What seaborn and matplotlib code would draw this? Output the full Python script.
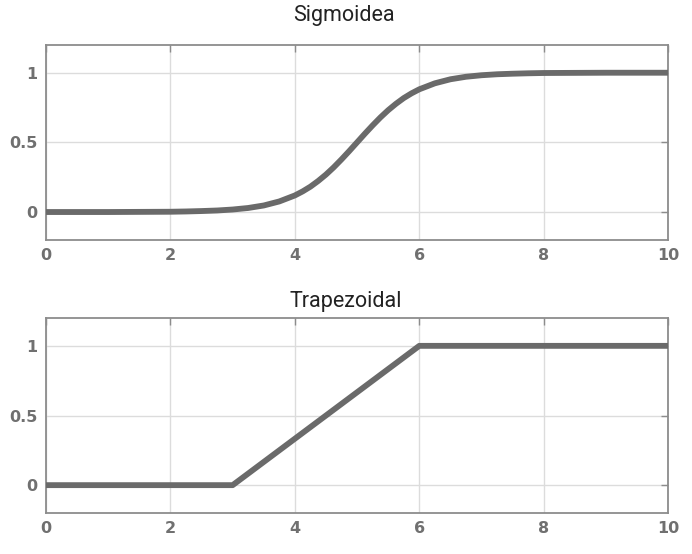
import matplotlib
matplotlib.use("Agg")
import matplotlib.pyplot as plt
import seaborn as sns
import pandas as pd

# Sigmoid membership values (sampled along the universe of discourse)
sig_x = [0, 1, 2, 2.25, 2.5, 2.75, 3, 3.25, 3.5, 3.75, 4, 4.125, 4.25, 4.375,
         4.5, 4.625, 4.75, 4.875, 5, 5.125, 5.25, 5.375, 5.5, 5.625, 5.75,
         5.875, 6, 6.25, 6.5, 6.75, 7, 7.25, 7.5, 7.75, 8, 9, 10]
sig_y = [0.000, 0.000, 0.002, 0.004, 0.007, 0.011, 0.018, 0.029, 0.047, 0.076,
         0.119, 0.148, 0.182, 0.223, 0.269, 0.321, 0.378, 0.438, 0.500, 0.562,
         0.622, 0.679, 0.731, 0.777, 0.818, 0.852, 0.881, 0.924, 0.953, 0.971,
         0.982, 0.989, 0.993, 0.996, 0.998, 1.000, 1.000]

# Trapezoidal membership breakpoints
trap_x = [0, 3, 6, 10]
trap_y = [0, 0, 1, 1]

titles = ["Sigmoidea", "Trapezoidal"]
x_ticks = [0, 2, 4, 6, 8, 10]
y_ticks = [0, 0.5, 1]
y_tick_labels = ["0", "0.5", "1"]

sns.set_theme(style="white")
plt.rcParams["font.family"] = ["DejaVu Sans"]

line_color = "#6a6a6a"
frame_color = "#8c8c8c"
label_color = "#707070"

fig = plt.figure(figsize=(6.92, 5.54), dpi=100)
ax_top = fig.add_axes([0.0665, 0.567, 0.899, 0.352])
ax_bot = fig.add_axes([0.0665, 0.074, 0.899, 0.352])

frames = [
    pd.DataFrame({"x": sig_x, "y": sig_y}),
    pd.DataFrame({"x": trap_x, "y": trap_y}),
]

for ax, df in zip([ax_top, ax_bot], frames):
    ax.grid(True, color="#dcdcdc", linewidth=1.0)
    ax.set_axisbelow(True)
    sns.lineplot(data=df, x="x", y="y", ax=ax, color=line_color,
                 linewidth=4.2, solid_joinstyle="round", solid_capstyle="butt",
                 zorder=3)
    ax.set_xlim(0, 10)
    ax.set_ylim(-0.2, 1.2)
    ax.set_xticks(x_ticks)
    ax.set_xticklabels([str(t) for t in x_ticks])
    ax.set_yticks(y_ticks)
    ax.set_yticklabels(y_tick_labels)
    ax.set_xlabel("")
    ax.set_ylabel("")
    for sp in ax.spines.values():
        sp.set_visible(True)
        sp.set_color(frame_color)
        sp.set_linewidth(1.3)
    ax.tick_params(direction="in", length=5, width=1.0, color=frame_color,
                   top=True, right=True, labelsize=11.5, labelcolor=label_color,
                   pad=6)
    for lbl in ax.get_xticklabels() + ax.get_yticklabels():
        lbl.set_fontweight("bold")

# Panel titles
title_style = dict(fontsize=15.5, color="#222222", ha="center", va="baseline",
                   family=["Roboto", "DejaVu Sans"])
fig.text(0.497, 0.962, titles[0], **title_style)
fig.text(0.500, 0.446, titles[1], **title_style)

fig.savefig("out.png", dpi=100, facecolor="white")
